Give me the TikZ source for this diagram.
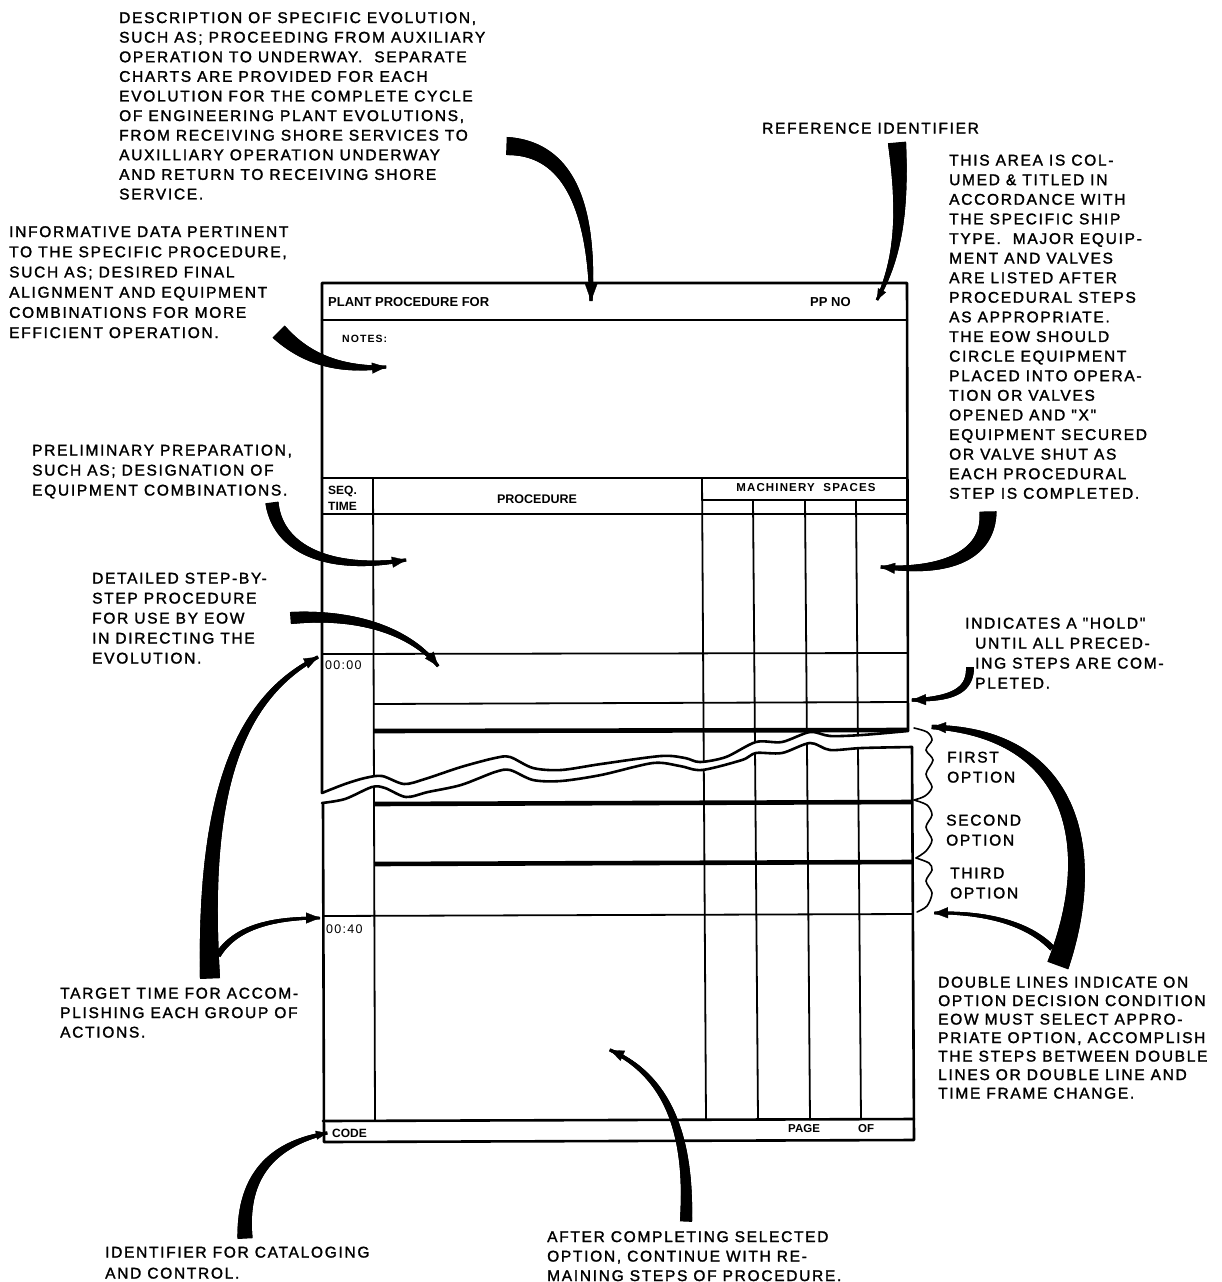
\documentclass[tikz,border=0pt]{standalone}
\usepackage{fontspec}
\setmainfont{Liberation Sans}
\newfontfamily\annfont[LetterSpace=11,FakeBold=1.6]{Liberation Sans}
\newfontfamily\formfont{Liberation Sans}
\newfontfamily\formwide[LetterSpace=10]{Liberation Sans}
\usetikzlibrary{decorations.markings,arrows.meta}

\tikzset{
  ann/.style={font=\annfont\fontsize{15.5}{#1}\selectfont, align=left, anchor=north west, inner sep=0pt},
  ann/.default=19.6,
  lbl/.style={font=\formfont\bfseries\fontsize{13}{15}\selectfont, anchor=west, inner sep=0pt},
  outerline/.style={line width=2.6pt, line cap=round, line join=round},
  innerline/.style={line width=1.8pt},
  dblline/.style={line width=4.6pt},
  waveline/.style={line width=2.6pt, line join=round, line cap=round},
  braceline/.style={line width=1.6pt, line cap=round},
  brushstroke/.style 2 args={
    line width=0.3pt,
    decoration={markings, mark=between positions 0 and 1 step 0.5pt with {%
      \pgfmathsetmacro\brushr{0.5*((#1)+((#2)-(#1))*(\pgfkeysvalueof{/pgf/decoration/mark info/distance from start})/(\pgfdecoratedpathlength))}%
      \fill (-0.6pt,-\brushr pt) rectangle (0.6pt,\brushr pt);}},
    postaction={decorate}},
  headbig/.style={-{Triangle[length=18pt,width=13pt]}},
  headmid/.style={-{Triangle[length=14pt,width=11pt]}},
  headsmall/.style={-{Triangle[length=11pt,width=9pt]}}
}

\begin{document}
\begin{tikzpicture}[x=1pt,y=-1pt]
\useasboundingbox (0,0) rectangle (1222,1282);
\fill[white] (0,0) rectangle (1222,1282);

% ---------- form: inner vertical lines ----------
\draw[innerline] (373,478) -- (375,1121);
\draw[innerline] (702,478) -- (706,1120);
\draw[innerline] (753,500) -- (758,1120);
\draw[innerline] (805,500) -- (810,1120);
\draw[innerline] (856,500) -- (861,1120);

% ---------- form: horizontal lines ----------
\draw[outerline] (322,320) -- (907,320);
\draw[outerline] (322,478) -- (907,478);
\draw[innerline] (702,500) -- (907,500);
\draw[innerline] (322,514) -- (907,514);
\draw[innerline] (322,654) -- (908,653);
\draw[innerline] (373,704) -- (908,702);
\draw[dblline] (373,731) -- (908,730);
\draw[dblline] (374,804) -- (912,802);
\draw[dblline] (374,864) -- (912,862);
\draw[innerline] (323,916) -- (912,914);
\draw[outerline] (323,1121) -- (914,1119);

% ---------- form: frame ----------
\draw[outerline] (322,793) -- (322,283) -- (907,283) -- (908,731);
\draw[outerline] (912,747) -- (914,1140) -- (324,1142) -- (323,803);

% ---------- break ----------
\fill[white] plot[smooth] coordinates {(322,793) (345,784) (365,778) (382,776) (404,784) (425,779) (461,767) (495,758) (510,757) (533,768) (561,770) (601,764) (661,756) (685,758) (700,762) (726,757) (756,742) (782,742) (810,732) (830,736) (862,735) (908,731)}
  -- plot[smooth] coordinates {(912,747) (862,748) (830,750) (810,743) (782,753) (756,753) (742,760) (702,770) (680,766) (653,763) (601,775) (561,781) (533,780) (510,770) (495,772) (461,785) (428,792) (406,797) (385,788) (372,787) (345,799) (322,803)} -- cycle;
\draw[waveline] plot[smooth] coordinates {(322,793) (345,784) (365,778) (382,776) (404,784) (425,779) (461,767) (495,758) (510,757) (533,768) (561,770) (601,764) (661,756) (685,758) (700,762) (726,757) (756,742) (782,742) (810,732) (830,736) (862,735) (908,731)};
\draw[waveline] plot[smooth] coordinates {(322,803) (345,799) (372,787) (385,788) (406,797) (428,792) (461,785) (495,772) (510,770) (533,780) (561,781) (601,775) (653,763) (680,766) (702,770) (742,760) (756,753) (782,753) (810,743) (830,750) (862,748) (912,747)};

% ---------- braces ----------
\draw[braceline] plot[smooth] coordinates {(914,728) (927,732) (932,740) (926,750) (933,760) (926,774) (932,787) (925,796) (914,800)};
\draw[braceline] plot[smooth] coordinates {(914,800) (927,805) (932,815) (926,827) (932,840) (926,851) (916,858)};
\draw[braceline] plot[smooth] coordinates {(916,858) (929,863) (932,870) (926,881) (932,893) (927,906) (917,912)};

% ---------- form labels ----------
\node[lbl] (ppFor) at (328,302) {PLANT PROCEDURE FOR};
\node[lbl] (ppNo) at (810,302) {PP NO};
\node[lbl, font=\formwide\bfseries\fontsize{10.5}{12}\selectfont] (notes) at (342,339) {NOTES:};
\node[lbl, font=\formfont\bfseries\fontsize{12}{14}\selectfont] (seqH) at (328,491) {SEQ.};
\node[lbl, font=\formfont\bfseries\fontsize{12}{14}\selectfont] (timeH) at (328,506) {TIME};
\node[lbl, anchor=center, font=\formfont\bfseries\fontsize{12.5}{14}\selectfont] (procH) at (537,499) {PROCEDURE};
\node[lbl, anchor=center, font=\formwide\bfseries\fontsize{11.5}{13}\selectfont] (machH) at (806,488) {MACHINERY\ \ SPACES};
\node[lbl, font=\formwide\fontsize{12.5}{14}\selectfont] (t00) at (325,665) {00:00};
\node[lbl, font=\formwide\fontsize{12.5}{14}\selectfont] (t40) at (326,929) {00:40};
\node[lbl, font=\formfont\bfseries\fontsize{12}{14}\selectfont] (code) at (332,1133) {CODE};
\node[lbl, font=\formfont\bfseries\fontsize{11.5}{13}\selectfont] (page) at (788,1129) {PAGE};
\node[lbl, font=\formfont\bfseries\fontsize{11.5}{13}\selectfont] (ofL) at (858,1129) {OF};

% ---------- annotations ----------
\node[ann] (descText) at (119,12) {DESCRIPTION OF SPECIFIC EVOLUTION,\\
SUCH AS; PROCEEDING FROM AUXILIARY\\
OPERATION TO UNDERWAY.\ \ SEPARATE\\
CHARTS ARE PROVIDED FOR EACH\\
EVOLUTION FOR THE COMPLETE CYCLE\\
OF ENGINEERING PLANT EVOLUTIONS,\\
FROM RECEIVING SHORE SERVICES TO\\
AUXILLIARY OPERATION UNDERWAY\\
AND RETURN TO RECEIVING SHORE\\
SERVICE.};

\node[ann=20.2] (infoText) at (9,226) {INFORMATIVE DATA PERTINENT\\
TO THE SPECIFIC PROCEDURE,\\
SUCH AS; DESIRED FINAL\\
ALIGNMENT AND EQUIPMENT\\
COMBINATIONS FOR MORE\\
EFFICIENT OPERATION.};

\node[ann] (refText) at (762,122.5) {REFERENCE IDENTIFIER};

\node[ann] (areaText) at (949,154.5) {THIS AREA IS COL-\\
UMED \& TITLED IN\\
ACCORDANCE WITH\\
THE SPECIFIC SHIP\\
TYPE.\ \ MAJOR EQUIP-\\
MENT AND VALVES\\
ARE LISTED AFTER\\
PROCEDURAL STEPS\\
AS APPROPRIATE.\\
THE EOW SHOULD\\
CIRCLE EQUIPMENT\\
PLACED INTO OPERA-\\
TION OR VALVES\\
OPENED AND "X"\\
EQUIPMENT SECURED\\
OR VALVE SHUT AS\\
EACH PROCEDURAL\\
STEP IS COMPLETED.};

\node[ann=20] (prelimText) at (32,444.5) {PRELIMINARY PREPARATION,\\
SUCH AS; DESIGNATION OF\\
EQUIPMENT COMBINATIONS.};

\node[ann=20] (detailText) at (92,572.5) {DETAILED STEP-BY-\\
STEP PROCEDURE\\
FOR USE BY EOW\\
IN DIRECTING THE\\
EVOLUTION.};

\node[ann=20] (holdText) at (975,617.5) {\hspace*{-10pt}INDICATES A "HOLD"\\
UNTIL ALL PRECED-\\
ING STEPS ARE COM-\\
PLETED.};

\node[ann=20] (opt1) at (947,751.5) {FIRST\\OPTION};
\node[ann=20] (opt2) at (946,814.5) {SECOND\\OPTION};
\node[ann=20] (opt3) at (950,867.5) {THIRD\\OPTION};

\node[ann=18.5] (dblText) at (938,976.5) {DOUBLE LINES INDICATE ON\\
OPTION DECISION CONDITION\\
EOW MUST SELECT APPRO-\\
PRIATE OPTION, ACCOMPLISH\\
THE STEPS BETWEEN DOUBLE\\
LINES OR DOUBLE LINE AND\\
TIME FRAME CHANGE.};

\node[ann=19.5] (targetText) at (60,987.5) {TARGET TIME FOR ACCOM-\\
PLISHING EACH GROUP OF\\
ACTIONS.};

\node[ann=21] (identText) at (105,1246.5) {IDENTIFIER FOR CATALOGING\\
AND CONTROL.};

\node[ann=19.5] (afterText) at (547,1231) {AFTER COMPLETING SELECTED\\
OPTION, CONTINUE WITH RE-\\
MAINING STEPS OF PROCEDURE.};

% ---------- arrow end points ----------
\coordinate (descTail) at (507,146);   \coordinate (descTip) at (591,301);
\coordinate (refTail) at (897,143);    \coordinate (refTip) at (877,300);
\coordinate (notesTail) at (279,332);  \coordinate (notesTip) at (386,367);
\coordinate (prelimTail) at (272,503); \coordinate (prelimTip) at (406,560);
\coordinate (detailTail) at (291,618); \coordinate (detailTip) at (438,666);
\coordinate (areaTail) at (988,512);   \coordinate (areaTip) at (881,567);
\coordinate (holdTail) at (970,668);   \coordinate (holdTip) at (912,700);
\coordinate (targetTail) at (210,978); \coordinate (t00Tip) at (318,657);
\coordinate (targetFork) at (218,955); \coordinate (t40Tip) at (320,918);
\coordinate (dblTail) at (1058,965);   \coordinate (opt1Tip) at (932,727);
\coordinate (dblFork) at (1052,948);   \coordinate (opt3Tip) at (934,913);
\coordinate (identTail) at (245,1238); \coordinate (codeTip) at (327,1133);
\coordinate (afterTail) at (686,1221); \coordinate (afterTip) at (610,1050);

% ---------- arrows ----------
\draw[brushstroke={18}{3}, headbig] (descTail) .. controls (565,148) and (592,200) .. (descTip);
\draw[brushstroke={18}{2.5}, headsmall] (refTail) .. controls (903,210) and (899,257) .. (refTip);
\draw[brushstroke={17}{3}, headmid] (notesTail) .. controls (303,356) and (335,371) .. (notesTip);
\draw[brushstroke={13}{3}, headmid] (prelimTail) .. controls (278,550) and (330,572) .. (prelimTip);
\draw[brushstroke={12}{3}, headmid] (detailTail) .. controls (360,613) and (412,633) .. (detailTip);
\draw[brushstroke={17}{3}, headmid] (areaTail) .. controls (989,556) and (945,573) .. (areaTip);
\draw[brushstroke={8}{3}, headmid] (holdTail) .. controls (970,692) and (950,699) .. (holdTip);
\draw[brushstroke={20}{3}, headmid] (targetTail) .. controls (203,800) and (235,700) .. (t00Tip);
\draw[brushstroke={6}{2.5}, headmid] (targetFork) .. controls (235,928) and (270,918) .. (t40Tip);
\draw[brushstroke={22}{4}, headmid] (dblTail) .. controls (1100,850) and (1075,733) .. (opt1Tip);
\draw[brushstroke={6}{2.5}, headmid] (dblFork) .. controls (1030,925) and (990,912) .. (opt3Tip);
\draw[brushstroke={15}{3}, headsmall] (identTail) .. controls (242,1180) and (268,1145) .. (codeTip);
\draw[brushstroke={12}{3}, headmid] (afterTail) .. controls (690,1130) and (665,1075) .. (afterTip);
\end{tikzpicture}
\end{document}
